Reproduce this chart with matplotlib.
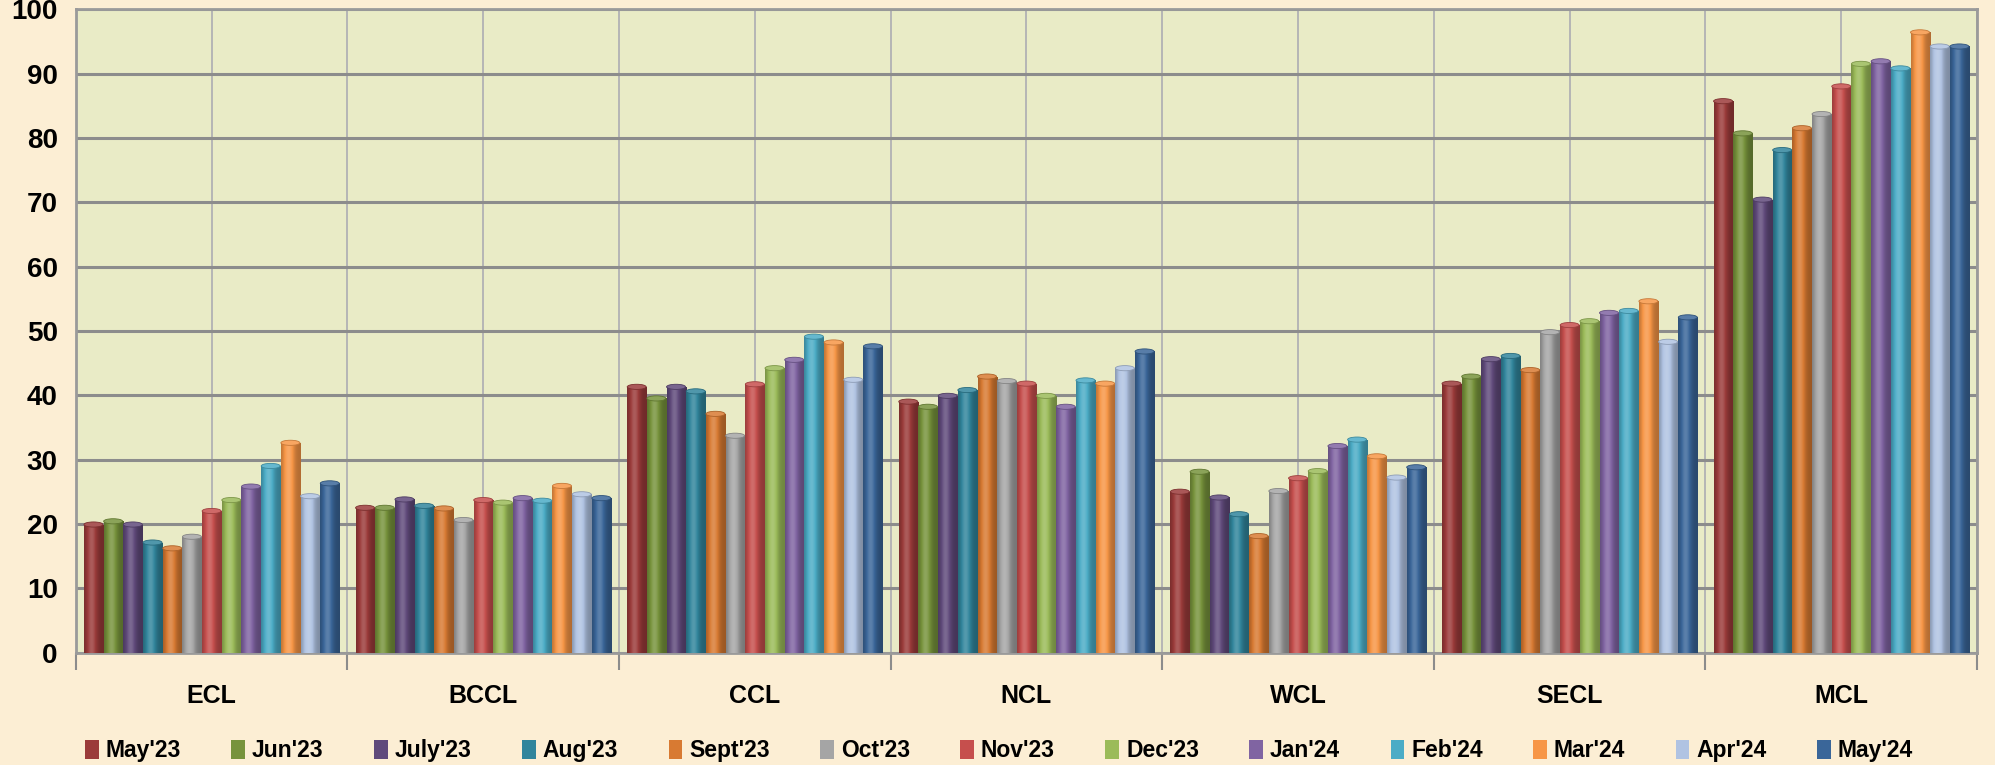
import numpy as np
import matplotlib
matplotlib.use("Agg")
import matplotlib.pyplot as plt
from matplotlib.patches import Ellipse
from matplotlib import colors as mcolors

plt.rcParams['font.family'] = ['Liberation Sans Narrow', 'Liberation Sans', 'DejaVu Sans']
plt.rcParams['font.weight'] = 'bold'

# data
companies = ["ECL", "BCCL", "CCL", "NCL", "WCL", "SECL", "MCL"]
months = ["May'23", "Jun'23", "July'23", "Aug'23", "Sept'23", "Oct'23", "Nov'23",
          "Dec'23", "Jan'24", "Feb'24", "Mar'24", "Apr'24", "May'24"]

ecl = [19.9, 20.4, 19.9, 17.1, 16.2, 18.0, 22.0, 23.7, 25.8, 29.0, 32.6, 24.3, 26.3]
bccl = [22.5, 22.5, 23.8, 22.8, 22.4, 20.6, 23.7, 23.3, 24.0, 23.6, 25.9, 24.6, 24.0]
ccl = [41.3, 39.5, 41.3, 40.6, 37.1, 33.7, 41.7, 44.2, 45.5, 49.1, 48.2, 42.4, 47.6]
ncl = [39.0, 38.2, 39.9, 40.8, 42.9, 42.2, 41.8, 39.9, 38.2, 42.3, 41.8, 44.2, 46.8]
wcl = [25.0, 28.1, 24.1, 21.5, 18.1, 25.1, 27.1, 28.2, 32.1, 33.1, 30.5, 27.2, 28.8]
secl = [41.8, 42.9, 45.6, 46.1, 43.9, 49.8, 50.9, 51.5, 52.8, 53.1, 54.6, 48.3, 52.1]
mcl = [85.7, 80.7, 70.4, 78.1, 81.5, 83.7, 88.0, 91.5, 91.9, 90.8, 96.4, 94.2, 94.2]

month_colors = ["#9B3B3A", "#77933C", "#604A7B", "#31859C", "#D87A32", "#A5A5A5",
                "#C64F4D", "#9BBB59", "#8064A2", "#4BACC6", "#F79646", "#B0C3E2",
                "#3A6699"]

values = np.array([ecl, bccl, ccl, ncl, wcl, secl, mcl])  # company x month

fig = plt.figure(figsize=(19.95, 7.65), dpi=100)
fig.patch.set_facecolor("#FCEED4")
ax = fig.add_axes([0.038, 0.147, 0.953, 0.841])
ax.set_facecolor("#E9EBC6")

n_months = len(months)
step = 0.0725
width = 0.07
x = np.arange(len(companies))

# cylinder shading profile across the bar
t = np.linspace(0, 1, 64)
shade = 0.72 + 0.45 * np.exp(-((t - 0.38) / 0.28) ** 2)

for j in range(n_months):
    pos = x + (j - (n_months - 1) / 2) * step
    bars = ax.bar(pos, values[:, j], width=width, color=month_colors[j],
                  label=months[j], zorder=3, linewidth=0)
    base = np.array(mcolors.to_rgb(month_colors[j]))
    grad = np.clip(base[None, :] * shade[:, None], 0, 1)
    grad = np.where(shade[:, None] > 1, base + (1 - base) * (shade[:, None] - 1), grad)
    img = grad[None, :, :]
    for b in bars:
        x0 = b.get_x()
        h = b.get_height()
        im = ax.imshow(img, extent=(x0, x0 + width, 0, h), aspect='auto',
                       zorder=4, interpolation='bilinear')
        im.set_clip_path(b)
        top = base + (1 - base) * 0.15
        ax.add_patch(Ellipse((x0 + width / 2, h), width, 0.8,
                             facecolor=top, edgecolor=base * 0.8, lw=0.6, zorder=5))

ax.set_xlim(-0.5, len(companies) - 0.5)
ax.set_ylim(0, 100)

# horizontal grid
ax.set_yticks(np.arange(0, 101, 10))
ax.yaxis.grid(True, color="#8C8C8C", linewidth=2.2, zorder=1)
# vertical grid every half category
for xv in np.arange(-0.5, len(companies), 0.5):
    ax.axvline(xv, color="#B5B5B5", linewidth=1.4, zorder=1)

ax.set_xticks(x)
ax.set_xticklabels(companies, fontsize=18, fontweight='bold')
ax.set_xticks(np.arange(-0.5, len(companies), 1.0), minor=True)
ax.tick_params(axis='x', which='major', length=0, pad=23)
ax.tick_params(axis='x', which='minor', length=12, width=1.5, color="#8C8C8C",
               direction='out')
ax.tick_params(axis='y', length=0, pad=13, labelsize=20)
for lab in ax.get_yticklabels():
    lab.set_fontweight('bold')

for side in ['left', 'right', 'top', 'bottom']:
    ax.spines[side].set_color("#9A9A9A")
    ax.spines[side].set_linewidth(2)

ax.legend(loc='center left', bbox_to_anchor=(0.0, -0.153), ncol=n_months,
          frameon=False, fontsize=16.5, handlelength=0.6, handleheight=0.9,
          handletextpad=0.3, columnspacing=2.2, borderaxespad=0)

fig.savefig("out.png", dpi=100, facecolor=fig.get_facecolor())
